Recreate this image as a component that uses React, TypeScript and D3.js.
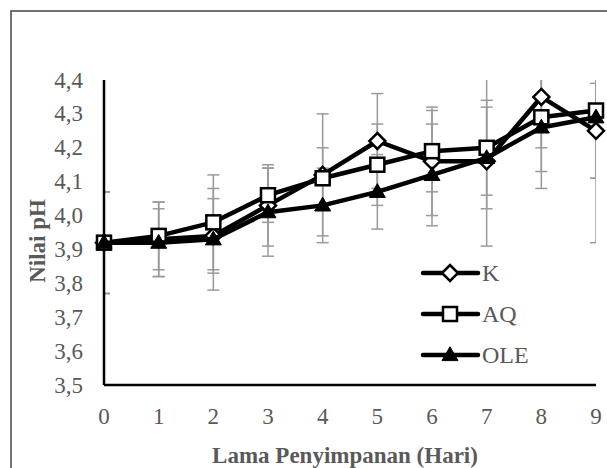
import React from "react";
import * as d3 from "d3";

// storage days and pH means / SD per treatment
const days = [0, 1, 2, 3, 4, 5, 6, 7, 8, 9];
const kVals = [3.92, 3.93, 3.94, 4.03, 4.12, 4.22, 4.16, 4.16, 4.35, 4.25];
const aqVals = [3.92, 3.94, 3.98, 4.06, 4.11, 4.15, 4.19, 4.2, 4.29, 4.31];
const oleVals = [3.92, 3.92, 3.93, 4.01, 4.03, 4.07, 4.12, 4.17, 4.26, 4.29];
const kErr = [0.15, 0.11, 0.11, 0.12, 0.18, 0.14, 0.16, 0.25, 0.15, 0.14];
const aqErr = [0.15, 0.1, 0.14, 0.08, 0.09, 0.12, 0.12, 0.14, 0.16, 0.39];
const oleErr = [0.15, 0.1, 0.15, 0.13, 0.11, 0.11, 0.15, 0.15, 0.18, 0.18];
const yTicks = [3.5, 3.6, 3.7, 3.8, 3.9, 4.0, 4.1, 4.2, 4.3, 4.4];

const series = [
  { name: "K", values: kVals, err: kErr, shape: "diamond" },
  { name: "AQ", values: aqVals, err: aqErr, shape: "square" },
  { name: "OLE", values: oleVals, err: oleErr, shape: "triangle" },
];

const W = 607;
const H = 468;
const left = 104;
const right = 596;
const top = 80;
const bottom = 385;
const gray = "#595959";
const font = "'Liberation Serif', 'Times New Roman', serif";

const x = d3.scaleLinear().domain([0, 9]).range([left, right]);
const y = d3.scaleLinear().domain([3.5, 4.4]).range([bottom, top]);

function Marker({ shape, cx, cy }: { shape: string; cx: number; cy: number }) {
  if (shape === "diamond") {
    const r = 8;
    return (
      <path
        d={`M${cx},${cy - r}L${cx + r},${cy}L${cx},${cy + r}L${cx - r},${cy}Z`}
        fill="#fff"
        stroke="#000"
        strokeWidth={2.5}
      />
    );
  }
  if (shape === "square") {
    const s = 7;
    return (
      <rect x={cx - s} y={cy - s} width={2 * s} height={2 * s} fill="#fff" stroke="#000" strokeWidth={2.5} />
    );
  }
  const p = d3.symbol(d3.symbolTriangle, 110)()!;
  return <path d={p} transform={`translate(${cx},${cy + 1})`} fill="#000" stroke="#000" strokeWidth={1} />;
}

export default function App() {
  const line = d3
    .line<number>()
    .x((_, i) => x(days[i]))
    .y((d) => y(d));

  return (
    <svg width={W} height={H} style={{ position: "absolute", left: 0, top: 0, background: "#fff" }}>
      <defs>
        <clipPath id="plot">
          <rect x={left} y={top} width={right - left} height={bottom - top} />
        </clipPath>
      </defs>
      {/* outer frame, runs off the right/bottom edge */}
      <rect x={11} y={11} width={W + 20} height={H + 20} fill="none" stroke="#444" strokeWidth={1.5} />

      {/* y tick labels */}
      {yTicks.map((t) => (
        <text
          key={t}
          x={83}
          y={y(t)}
          textAnchor="end"
          dominantBaseline="central"
          fontFamily={font}
          fontSize={23}
          fill={gray}
        >
          {t.toFixed(1).replace(".", ",")}
        </text>
      ))}
      {/* x tick labels */}
      {days.map((d) => (
        <text
          key={d}
          x={x(d)}
          y={416}
          textAnchor="middle"
          dominantBaseline="central"
          fontFamily={font}
          fontSize={23}
          fill={gray}
        >
          {d}
        </text>
      ))}

      {/* error bars */}
      <g clipPath="url(#plot)" stroke="#9a9a9a" strokeWidth={1.5}>
        {series.map((s) =>
          s.values.map((v, i) => {
            const cx = x(days[i]);
            const y1 = y(v + s.err[i]);
            const y2 = y(v - s.err[i]);
            return (
              <g key={s.name + i}>
                <line x1={cx} x2={cx} y1={y1} y2={y2} />
                <line x1={cx - 6} x2={cx + 6} y1={y1} y2={y1} />
                <line x1={cx - 6} x2={cx + 6} y1={y2} y2={y2} />
              </g>
            );
          })
        )}
      </g>

      {/* axes */}
      <line x1={left} x2={left} y1={top} y2={bottom} stroke="#000" strokeWidth={2.5} />
      <line x1={left} x2={right} y1={bottom} y2={bottom} stroke="#000" strokeWidth={2.5} />

      {/* series */}
      {series.map((s) => (
        <g key={s.name}>
          <path d={line(s.values)!} fill="none" stroke="#000" strokeWidth={4.5} strokeLinejoin="round" />
          {s.values.map((v, i) => (
            <Marker key={i} shape={s.shape} cx={x(days[i])} cy={y(v)} />
          ))}
        </g>
      ))}

      {/* legend */}
      {series.map((s, i) => {
        const ly = 273 + i * 41;
        return (
          <g key={s.name}>
            <line x1={423} x2={478} y1={ly} y2={ly} stroke="#000" strokeWidth={4.5} strokeLinecap="round" />
            <Marker shape={s.shape} cx={450} cy={ly} />
            <text x={482} y={ly} dominantBaseline="central" fontFamily={font} fontSize={24} fill={gray}>
              {s.name}
            </text>
          </g>
        );
      })}

      {/* axis titles */}
      <text
        transform={`translate(37,241) rotate(-90)`}
        textAnchor="middle"
        dominantBaseline="central"
        fontFamily={font}
        fontSize={23}
        fontWeight="bold"
        fill={gray}
      >
        Nilai pH
      </text>
      <text
        x={345}
        y={455}
        textAnchor="middle"
        dominantBaseline="central"
        fontFamily={font}
        fontSize={23}
        fontWeight="bold"
        fill={gray}
      >
        Lama Penyimpanan (Hari)
      </text>
    </svg>
  );
}
